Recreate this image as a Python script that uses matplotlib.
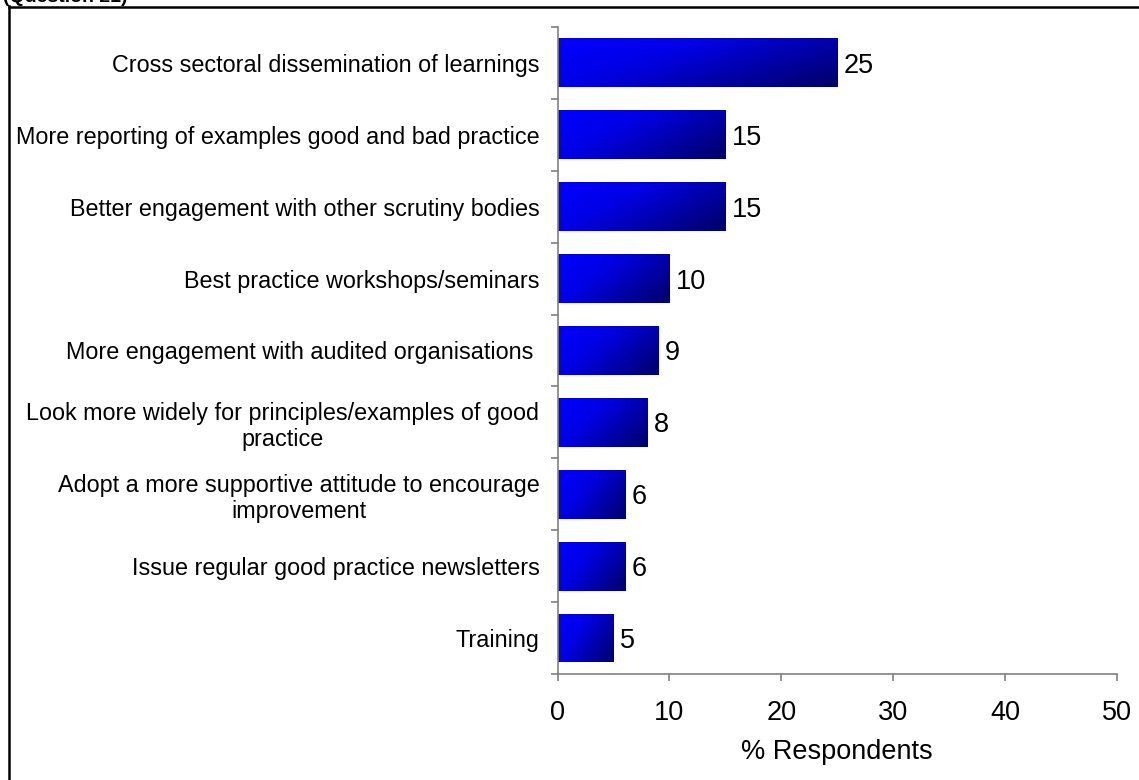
#!/usr/bin/env python3

import numpy as np
from matplotlib import pyplot as plt
from matplotlib.colors import LinearSegmentedColormap
from matplotlib.lines import Line2D

plt.rcParams["font.family"] = ["Liberation Sans", "DejaVu Sans"]

categories = [
    "Cross sectoral dissemination of learnings",
    "More reporting of examples good and bad practice",
    "Better engagement with other scrutiny bodies",
    "Best practice workshops/seminars",
    "More engagement with audited organisations ",
    "Look more widely for principles/examples of good\npractice",
    "Adopt a more supportive attitude to encourage\nimprovement",
    "Issue regular good practice newsletters",
    "Training",
]
values = [25, 15, 15, 10, 9, 8, 6, 6, 5]
x_ticks = [0, 10, 20, 30, 40, 50]

out_filename = "out.png"
axis_grey = "#808080"
bar_cmap = LinearSegmentedColormap.from_list(
    "bar_fill", [(0.0, "#0000ff"), (0.35, "#0000e6"), (1.0, "#000066")]
)


def fill_bar(ax, bar):
    # diagonal shading: bright at top-left, dark at bottom-right
    x0, y0 = bar.get_x(), bar.get_y()
    w, h = bar.get_width(), bar.get_height()
    u = np.linspace(0, 1, 200)[None, :]
    v = np.linspace(0, 1, 40)[:, None]
    grad = 0.65 * u + 0.35 * v
    im = ax.imshow(
        grad,
        cmap=bar_cmap,
        vmin=0,
        vmax=1,
        extent=(x0, x0 + w, y0 + h, y0),
        origin="upper",
        aspect="auto",
        interpolation="bilinear",
        zorder=2,
    )
    im.set_clip_path(bar)


def main():
    fig = plt.figure(figsize=(11.39, 7.8), dpi=100)
    ax = fig.add_axes([0.4895, 0.1359, 0.4912, 0.8295])

    ypos = np.arange(len(categories))
    bars = ax.barh(ypos, values, height=0.68, color="none", edgecolor="none")
    for bar, val in zip(bars, values):
        fill_bar(ax, bar)
        ax.text(
            val + 0.6,
            bar.get_y() + bar.get_height() / 2,
            f"{val}",
            va="center_baseline",
            ha="left",
            fontsize=19.5,
        )

    ax.set_xlim(0, 50)
    ax.set_ylim(len(categories) - 0.5, -0.5)

    ax.set_xticks(x_ticks)
    ax.set_xticklabels([str(t) for t in x_ticks], fontsize=19.5)
    ax.xaxis.set_tick_params(length=5, width=1.2, color=axis_grey, pad=14, direction="out")

    ax.set_yticks(ypos)
    ax.set_yticklabels(categories, fontsize=16.8, multialignment="center")
    ax.yaxis.set_tick_params(which="major", length=0, pad=13)
    ax.set_yticks(np.arange(len(categories) + 1) - 0.5, minor=True)
    ax.yaxis.set_tick_params(which="minor", length=5, width=1.2, color=axis_grey, direction="out")

    for side in ("top", "right"):
        ax.spines[side].set_visible(False)
    for side in ("left", "bottom"):
        ax.spines[side].set_color(axis_grey)
        ax.spines[side].set_linewidth(1.2)

    ax.set_xlabel("% Respondents", fontsize=19.5, labelpad=9)

    # frame around the chart area, only the top and left edges fall inside
    fig.add_artist(Line2D([8.5 / 1139, 8.5 / 1139], [0, 1 - 6 / 780], color="black", lw=1.8))
    fig.add_artist(Line2D([8.5 / 1139, 1], [1 - 6.5 / 780, 1 - 6.5 / 780], color="black", lw=1.8))

    fig.text(3 / 1139, 1 - 2 / 780, "(Question 21)", fontsize=14, fontweight="bold",
             ha="left", va="baseline")

    fig.savefig(out_filename, dpi=100)


if __name__ == "__main__":
    main()
